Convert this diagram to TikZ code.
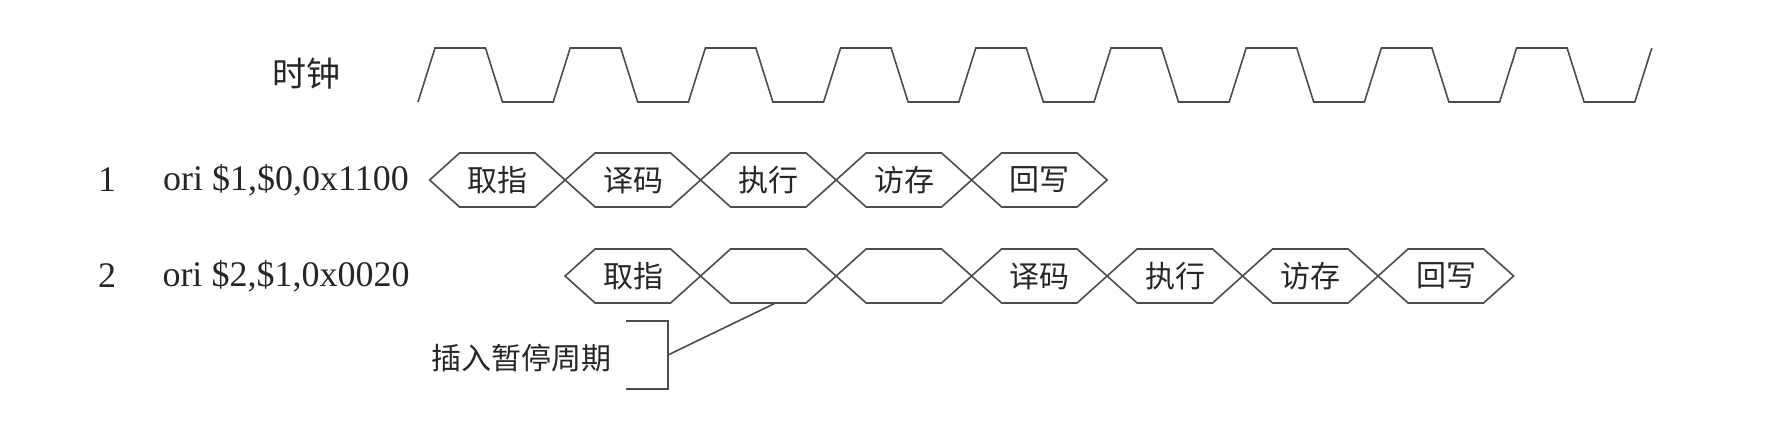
\documentclass[tikz,border=0pt]{standalone}
\usepackage{fontspec}
\setmainfont{Liberation Serif}
\newfontfamily\cjk{Noto Sans CJK SC}
\usepackage{tikz}
\usetikzlibrary{positioning, calc}

\begin{document}
\begin{tikzpicture}[x=0.5pt, y=-0.5pt,
  wire/.style={draw=black!70, line width=0.8pt},
  stage/.style={minimum width=67.75pt, minimum height=27pt, inner sep=0pt, text=black!85, font=\cjk\fontsize{15}{15}\selectfont},
  cn/.style={text=black!85, font=\cjk\fontsize{15}{15}\selectfont},
  en/.style={text=black!85, font=\fontsize{18}{18}\selectfont}]
\useasboundingbox (0,0) rectangle (1768,421);
% Clock
\node[cn, font=\cjk\fontsize{17}{17}\selectfont] (clk) at (306,74) {时钟};
\coordinate (clk0) at (418,102);
\draw[wire] (clk0) \foreach \k in {0,...,8} { -- ++(17,-54) -- ++(50.5,0) -- ++(17,54) -- ++(50.7,0) } -- ++(17,-54);
% Instruction 1
\node[en] (no1) at (107,180) {1};
\node[en] (ins1) at (286,180) {ori \$1,\$0,0x1100};
\foreach \s [count=\i] in {取指,译码,执行,访存,回写} {
  \node[stage] (pa\i) at ({430+135.5*(\i-0.5)},180) {\s};
  \draw[wire] (pa\i.west) -- ++(30,-27) -- ++(75.5,0) -- ++(30,27) -- ++(-30,27) -- ++(-75.5,0) -- cycle;
}
% Instruction 2
\node[en] (no2) at (107,276) {2};
\node[en] (ins2) at (286,276) {ori \$2,\$1,0x0020};
\foreach \s [count=\i] in {取指,{},{},译码,执行,访存,回写} {
  \node[stage] (pb\i) at ({565.5+135.5*(\i-0.5)},276) {\s};
  \draw[wire] (pb\i.west) -- ++(30,-27) -- ++(75.5,0) -- ++(30,27) -- ++(-30,27) -- ++(-75.5,0) -- cycle;
}
% Stall note
\node[cn] (stall) at (521,358) {插入暂停周期};
\coordinate (brk) at (668,355);
\draw[wire] ([xshift=3pt]pb2.south) -- (brk);
\draw[wire] (626,321) -| (brk) |- (626,389);
\end{tikzpicture}
\end{document}
